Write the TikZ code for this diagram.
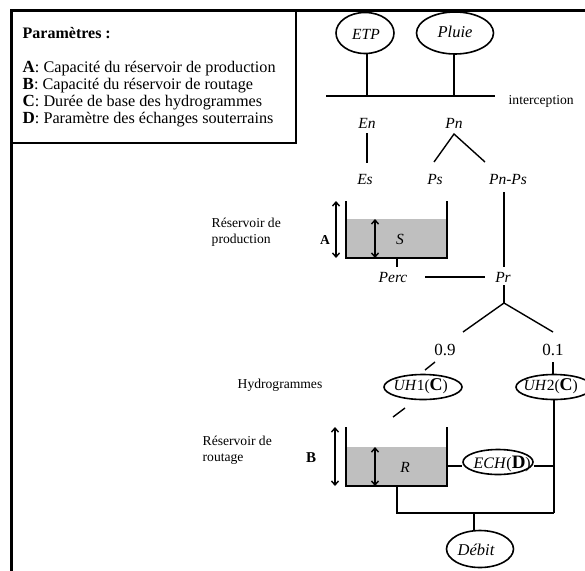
\documentclass[tikz,border=0pt]{standalone}
\usepackage{fontspec}
\setmainfont{Liberation Serif}
\usetikzlibrary{shapes.geometric,arrows.meta}
\begin{document}
\begin{tikzpicture}[x=1pt,y=-1pt,line width=1.4pt,
  lbl/.style={font=\fontsize{13.6}{16}\selectfont, inner sep=0pt},
  var/.style={font=\fontsize{15.5}{17}\selectfont\itshape, inner sep=0pt},
  num/.style={font=\fontsize{17}{18}\selectfont, inner sep=0pt},
  oval/.style={draw, ellipse, inner sep=0pt, line width=1.6pt},
  dbl/.style={{Straight Barb[length=4pt,width=7pt]}-{Straight Barb[length=4pt,width=7pt]}, line width=1.4pt},
  water/.style={fill=gray!50, draw=none},
  param/.style={anchor=west, font=\fontsize{16.2}{17}\selectfont, inner sep=0pt}]
\useasboundingbox (0,0) rectangle (585,570);
% frame
\draw[line width=3pt] (11,571) -- (11,10) -- (586,10);
\draw[line width=2pt] (12,10) rectangle (296,143);
\node[param, font=\fontsize{16}{17}\selectfont\bfseries] (ptitle) at (22,33) {Paramètres :};
\node[param] (pa) at (22,69) {\textbf{\fontsize{17}{17}\selectfont A}: Capacité du réservoir de production};
\node[param] (pb) at (22,86) {\textbf{\fontsize{17}{17}\selectfont B}: Capacité du réservoir de routage};
\node[param] (pc) at (22,103) {\textbf{\fontsize{17}{17}\selectfont C}: Durée de base des hydrogrammes};
\node[param] (pd) at (22,120) {\textbf{\fontsize{17}{17}\selectfont D}: Paramètre des échanges souterrains};
% inputs
\node[oval, minimum width=58pt, minimum height=41pt] (etp) at (365,33) {};
\node[var] (etpt) at (366,34) {ETP};
\node[oval, minimum width=77pt, minimum height=42pt] (pluie) at (455,33) {};
\node[var, font=\fontsize{16.5}{17}\selectfont\itshape] (pluiet) at (455,32) {Pluie};
\coordinate (hl) at (326,96);
\coordinate (hr) at (495,96);
\coordinate (i1) at (367,96);
\coordinate (i2) at (454,96);
\draw (hl) -- (hr);
\draw (etp.south -| i1) -- (i1);
\draw (pluie.south -| i2) -- (i2);
\node[lbl, anchor=west] (interc) at (508,101) {interception};
\node[var] (en) at (367,123) {En};
\node[var] (pn) at (454,123) {Pn};
\node[var] (es) at (365,179) {Es};
\node[var] (ps) at (435,179) {Ps};
\node[var] (pnps) at (508,179) {Pn-Ps};
\coordinate (enb) at (367,133);
\coordinate (est) at (367,163);
\draw (enb) -- (est);
\coordinate (pnA) at (454,134);
\coordinate (pnL) at (434,162);
\coordinate (pnR) at (485,162);
\draw (pnL) -- (pnA) -- (pnR);
% production store
\fill[water] (346,219) rectangle (447,258);
\coordinate (sTL) at (346,201);
\coordinate (sBL) at (346,258);
\coordinate (sBR) at (447,258);
\coordinate (sTR) at (447,201);
\draw (sTL) -- (sBL) -- (sBR) -- (sTR);
\coordinate (aT) at (336,201);
\coordinate (aB) at (336,258);
\draw[dbl] (aT) -- (aB);
\coordinate (sT) at (375,219);
\coordinate (sB) at (375,258);
\draw[dbl] (sT) -- (sB);
\node[var] (s) at (400,239) {S};
\node[lbl, font=\fontsize{13.6}{14}\selectfont\bfseries] (a) at (325,240) {A};
\node[lbl, anchor=west, align=left] (resp) at (211,232) {Réservoir de\\production};
\node[var] (perc) at (393,277) {Perc};
\node[var] (pr) at (503,277) {Pr};
\coordinate (sOut) at (397,258);
\coordinate (percT) at (397,267);
\draw (sOut) -- (percT);
\coordinate (pcR) at (425,277);
\coordinate (prL) at (485,277);
\draw (pcR) -- (prL);
\coordinate (ppT) at (504,192);
\coordinate (ppB) at (504,267);
\draw (ppT) -- (ppB);
\coordinate (prB) at (504,285);
\coordinate (prA) at (504,303);
\coordinate (prL2) at (463,332);
\coordinate (prR2) at (553,332);
\draw (prB) -- (prA);
\draw (prL2) -- (prA) -- (prR2);
\node[num] (n09) at (445,350) {0.9};
\node[num] (n01) at (553,350) {0.1};
% hydrographs
\node[lbl] (hydro) at (280,385) {Hydrogrammes};
\node[oval, minimum width=78pt, minimum height=25pt] (uh1) at (423,387) {};
\node[font=\fontsize{15.5}{17}\selectfont, inner sep=0pt, anchor=west] (uh1t) at (393,386) {\textit{UH}1(\textbf{\fontsize{18}{18}\selectfont C})};
\node[oval, minimum width=76pt, minimum height=25pt] (uh2) at (554,387) {};
\node[font=\fontsize{15.5}{17}\selectfont, inner sep=0pt, anchor=west] (uh2t) at (523,386) {\textit{UH}2(\textbf{\fontsize{18}{18}\selectfont C})};
\coordinate (d1a) at (435,362);
\coordinate (d1b) at (425,370);
\draw (d1a) -- (d1b);
\coordinate (d2a) at (405,408);
\coordinate (d2b) at (393,417);
\draw (d2a) -- (d2b);
\coordinate (u2T) at (553,362);
\draw (u2T) -- (uh2.north -| u2T);
% routing store
\fill[water] (346,447) rectangle (447,486);
\coordinate (rTL) at (346,427);
\coordinate (rBL) at (346,486);
\coordinate (rBR) at (447,486);
\coordinate (rTR) at (447,427);
\draw (rTL) -- (rBL) -- (rBR) -- (rTR);
\coordinate (bT) at (335,427);
\coordinate (bB) at (335,486);
\draw[dbl] (bT) -- (bB);
\coordinate (rT) at (375,447);
\coordinate (rB) at (375,486);
\draw[dbl] (rT) -- (rB);
\node[var] (r) at (405,467) {R};
\node[lbl, font=\fontsize{15}{15}\selectfont\bfseries] (b) at (311,458) {B};
\node[lbl, anchor=west, align=left] (resr) at (202,450) {Réservoir de\\routage};
\node[oval, minimum width=70pt, minimum height=25pt] (ech) at (498,462) {};
\node[font=\fontsize{16}{17}\selectfont, inner sep=0pt, anchor=west] (echt) at (473,464) {\textit{ECH}(\textbf{\fontsize{19}{19}\selectfont D})};
\coordinate (rW) at (447,466);
\coordinate (j1) at (554,466);
\draw (rW) -- (ech.west |- rW);
\draw (ech.east |- j1) -- (j1);
\coordinate (rOut) at (397,486);
\coordinate (jL) at (397,513);
\coordinate (jR) at (554,513);
\coordinate (jM) at (474,513);
\draw (uh2.south) -- (jR);
\draw (rOut) -- (jL) -- (jR);
\node[oval, minimum width=67pt, minimum height=37pt] (debit) at (480,549) {};
\node[var, font=\fontsize{16.5}{17}\selectfont\itshape] (debitt) at (476,550) {Débit};
\draw (jM) -- (debit.north -| jM);
\end{tikzpicture}
\end{document}
